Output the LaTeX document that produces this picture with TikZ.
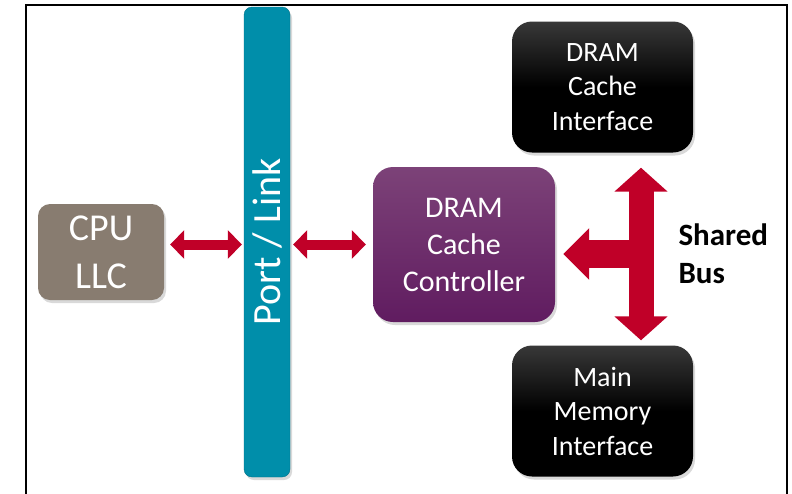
\documentclass[tikz,border=0pt]{standalone}
\usepackage{fontspec}
\setmainfont{Carlito}
\usetikzlibrary{arrows.meta,positioning,calc,shadows}
\definecolor{Teal}{RGB}{0,142,170}
\definecolor{Taupe}{RGB}{136,124,112}
\definecolor{Crimson}{RGB}{192,0,40}
\definecolor{PlumTop}{RGB}{124,66,120}
\definecolor{PlumBottom}{RGB}{96,28,96}
\definecolor{InkTop}{RGB}{56,56,56}
\tikzset{
  block/.style={text=white,align=center,inner sep=0pt,drop shadow={shadow xshift=2pt,shadow yshift=-3pt,opacity=0.3}},
  cpubox/.style={block,fill=Taupe,rounded corners=12pt,minimum width=126pt,minimum height=96pt,font=\fontsize{38}{48}\selectfont},
  portbar/.style={block,fill=Teal,draw=Teal!80!black,rounded corners=8pt,minimum width=46pt,minimum height=470pt,font=\fontsize{40}{48}\selectfont},
  ctrlbox/.style={block,top color=PlumTop,bottom color=PlumBottom,rounded corners=20pt,minimum width=182pt,minimum height=155pt,font=\fontsize{30}{37}\selectfont},
  ifbox/.style={block,top color=InkTop,bottom color=black,middle color=black,rounded corners=20pt,minimum width=181pt,minimum height=131pt,font=\fontsize{28}{34.5}\selectfont},
  linkarrow/.style={<->,>={Triangle[width=28pt,length=14pt]},draw=Crimson,line width=10pt},
  busarrow/.style={<->,>={Triangle[width=52pt,length=24pt]},draw=Crimson,line width=25pt},
  tapArrow/.style={->,>={Triangle[width=50pt,length=26pt]},draw=Crimson,line width=28pt},
  buslabel/.style={align=left,font=\fontsize{31}{38}\selectfont\bfseries}
}
\begin{document}
\begin{tikzpicture}[x=1pt,y=-1pt]
\useasboundingbox (0,0) rectangle (792,493);
\draw[line width=2pt] (26,495) -- (26,5) -- (787,5) -- (787,495);

\node[cpubox] (cpu) at (101,252) {CPU\\LLC};
\node[portbar] (port) at (267,242) {\rotatebox{90}{Port / Link}};
\node[ctrlbox] (dcc) at (464,244.5) {DRAM\\Cache\\Controller};
\node[ifbox] (dci) at (602.5,87) {DRAM\\Cache\\Interface};
\node[ifbox] (mmi) at (602.5,411) {Main\\Memory\\Interface};
\coordinate (bus) at (641,254);
\node[buslabel,anchor=west,right=34pt of bus] (buslbl) {Shared\\Bus};

\draw[linkarrow,shorten <=6pt,shorten >=2pt] (cpu.east |- dcc.west) -- (port.west |- dcc.west);
\draw[linkarrow,shorten <=3pt,shorten >=7pt] (port.east |- dcc.west) -- (dcc.west);
\draw[busarrow,shorten <=15pt,shorten >=5pt] (bus |- dci.south) -- (bus |- mmi.north);
\draw[tapArrow,shorten >=8pt] (bus) -- (bus -| dcc.east);
\end{tikzpicture}
\end{document}
